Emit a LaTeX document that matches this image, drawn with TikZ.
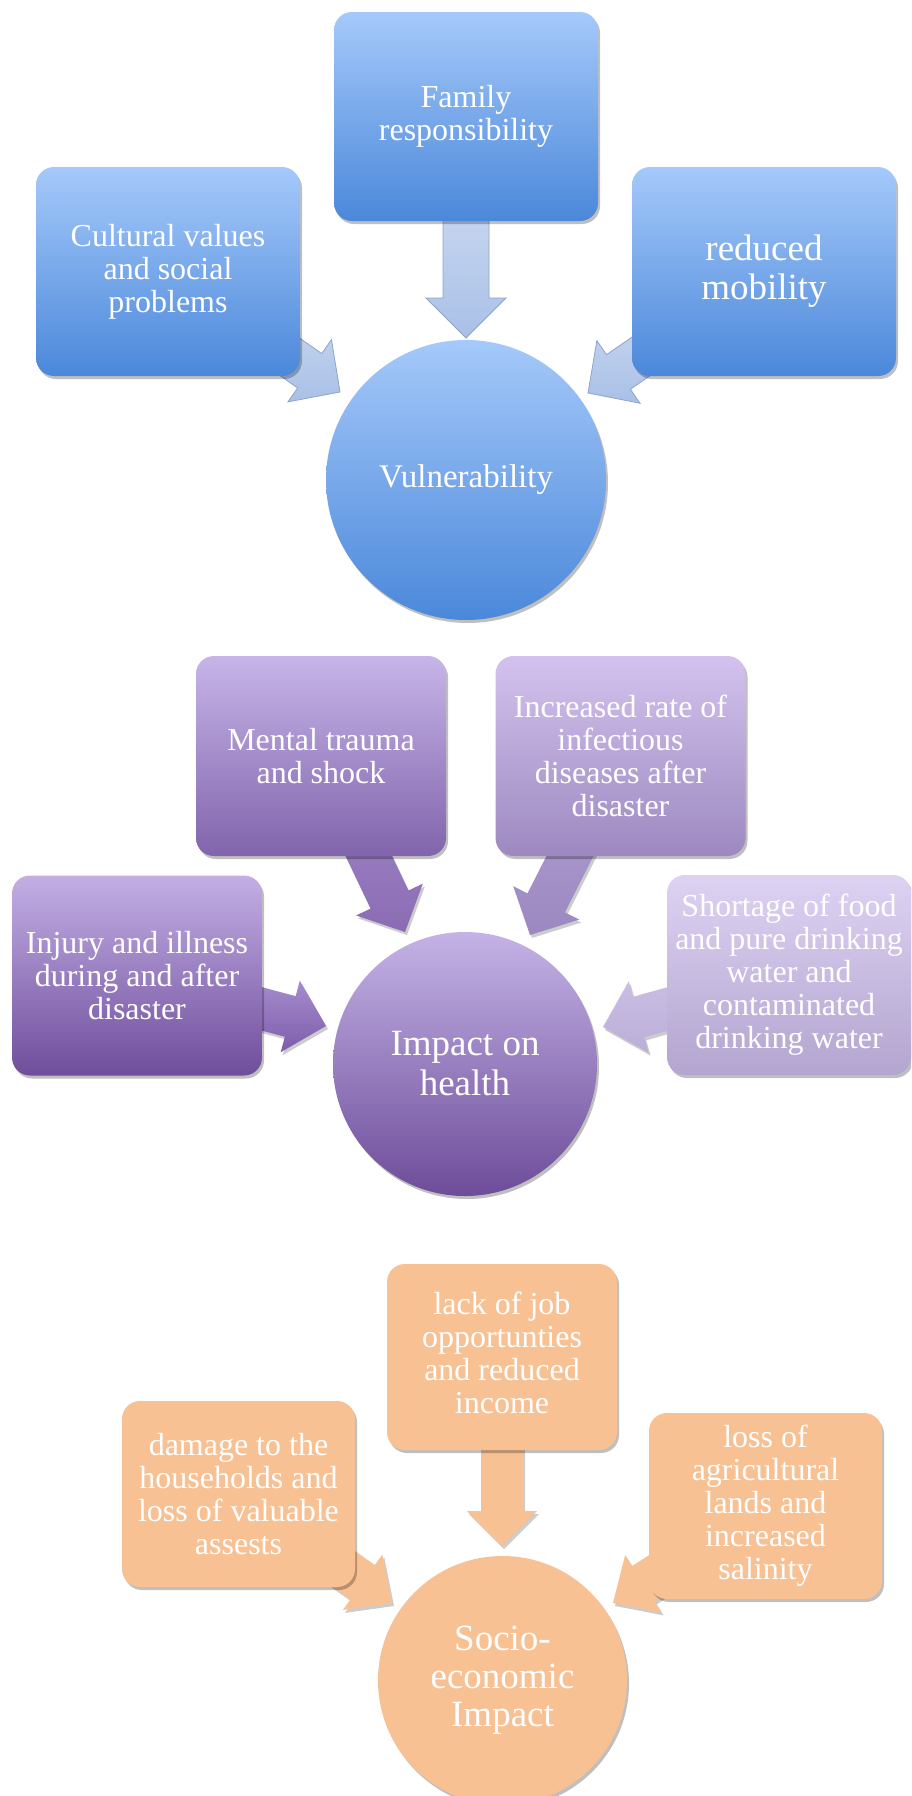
\documentclass[tikz,border=0pt]{standalone}
\usepackage{fontspec}
\setmainfont{Liberation Serif}
\usetikzlibrary{calc,shadows}
\pgfdeclarelayer{bgw}
\pgfdeclarelayer{arr}
\pgfsetlayers{bgw,arr,main}

\definecolor{bluetop}{HTML}{A5C9FA}
\definecolor{bluebot}{HTML}{4B88DA}
\definecolor{barrtop}{HTML}{DAE5F6}
\definecolor{barrbot}{HTML}{A9C0E6}
\definecolor{barrline}{HTML}{8EA4CB}
\definecolor{menttop}{HTML}{C7B5E8}
\definecolor{mentbot}{HTML}{8164AC}
\definecolor{inctop}{HTML}{D3C2EE}
\definecolor{incbot}{HTML}{9D89C0}
\definecolor{injtop}{HTML}{C3AFE4}
\definecolor{injbot}{HTML}{6F4D9C}
\definecolor{shotop}{HTML}{DED2F3}
\definecolor{shobot}{HTML}{B3A5CF}
\definecolor{heatop}{HTML}{C4B3E6}
\definecolor{heabot}{HTML}{6D4C99}
\definecolor{marrtop}{HTML}{A58DCB}
\definecolor{marrbot}{HTML}{8B6CB4}
\definecolor{iarrtop}{HTML}{B4A3D6}
\definecolor{iarrbot}{HTML}{9C88C0}
\definecolor{jarrtop}{HTML}{B49CD8}
\definecolor{jarrbot}{HTML}{7D5DAC}
\definecolor{sarrtop}{HTML}{CFC3E8}
\definecolor{sarrbot}{HTML}{BBAED8}
\definecolor{orng}{HTML}{F8C193}

\newcommand\fnorm{\fontsize{32}{33}\selectfont}
\newcommand\fbig{\fontsize{37}{39}\selectfont}
\newcommand\fvul{\fontsize{33}{35}\selectfont}

% #1 start, #2 tip, #3 shaft half width, #4 head half width, #5 head length, #6 style
\newcommand\blkarrow[6]{%
  \path ($(#2)!#5!(#1)$) coordinate (bbase);
  \path[#6] ($(#1)!#3!90:(#2)$) -- ($(bbase)!#3!90:(#2)$) -- ($(bbase)!#4!90:(#2)$)
    -- (#2) -- ($(bbase)!#4!-90:(#2)$) -- ($(bbase)!#3!-90:(#2)$) -- ($(#1)!#3!-90:(#2)$) -- cycle;
}

\tikzset{
  shad/.style={drop shadow={shadow xshift=2pt,shadow yshift=-3pt,opacity=0.25,fill=black}},
  box/.style={rectangle, rounded corners=18pt, inner sep=0pt, align=center, text=white, font=\fnorm, shad},
  bluebox/.style={box, minimum width=264pt, minimum height=209pt, top color=bluetop, bottom color=bluebot},
  circ/.style={circle, inner sep=0pt, align=center, text=white, shad},
  bluearr/.style={top color=barrtop, bottom color=barrbot, draw=barrline, line width=0.8pt, line join=miter},
  pbox/.style={box, minimum width=250pt, minimum height=200pt},
  obox/.style={box, fill=orng, minimum width=233pt, minimum height=186pt},
  oarr/.style={fill=orng, drop shadow={shadow xshift=2pt,shadow yshift=-3pt,opacity=0.2,fill=black}},
  parr/.style={drop shadow={shadow xshift=2pt,shadow yshift=-3pt,opacity=0.2,fill=black}},
}

\begin{document}
\begin{tikzpicture}[x=1pt,y=-1pt]
\useasboundingbox (0,0) rectangle (911,1796);
\clip (0,0) rectangle (911,1796);
\begin{pgfonlayer}{bgw}
  \fill[white] (0,0) rectangle (911,1796);
\end{pgfonlayer}

% ---------------- Vulnerability ----------------
\node[bluebox] (famBox) at (466,116.5) {Family\\responsibility};
\node[bluebox] (culBox) at (168,271.5) {Cultural values\\and social\\problems};
\node[bluebox, font=\fbig] (redBox) at (764,271.5) {reduced\\mobility};
\node[circ, minimum size=280pt, top color=bluetop, bottom color=bluebot, font=\fvul] (vul) at (466,480) {Vulnerability};
\coordinate (tv1) at (466,338);
\coordinate (tv2) at (340,392);
\coordinate (tv3) at (588,393);

% ---------------- Health ----------------
\node[pbox, top color=menttop, bottom color=mentbot] (mentBox) at (321,756) {Mental trauma\\and shock};
\node[pbox, top color=inctop, bottom color=incbot] (incBox) at (620.5,756) {Increased rate of\\infectious\\diseases after\\disaster};
\node[pbox, top color=injtop, bottom color=injbot] (injBox) at (137,975.5) {Injury and illness\\during and after\\disaster};
\node[pbox, minimum width=244pt, top color=shotop, bottom color=shobot] (shoBox) at (789,975) {Shortage of food\\and pure drinking\\water and\\contaminated\\drinking water};
\node[circ, minimum size=264pt, top color=heatop, bottom color=heabot, font=\fontsize{37}{40}\selectfont] (health) at (465,1064) {Impact on\\health};
\coordinate (th1) at (405,932);
\coordinate (th2) at (530,935);
\coordinate (th3) at (326,1026);
\coordinate (th4) at (603,1027);

% ---------------- Socio-economic ----------------
\node[obox, minimum width=230pt] (jobBox) at (502,1357) {\raisebox{10pt}{\begin{tabular}{@{}c@{}}lack of job\\opportunties\\and reduced\\income\end{tabular}}};
\node[obox] (dmgBox) at (238.5,1494) {damage to the\\households and\\loss of valuable\\assests};
\node[obox] (lossBox) at (765.5,1506) {loss of\\agricultural\\lands and\\increased\\salinity};
\node[circ, minimum size=249pt, fill=orng, font=\fontsize{37}{38}\selectfont] (socio) at (502.5,1680.5) {Socio-\\economic\\Impact};
\coordinate (to1) at (502,1546);
\coordinate (to2) at (392,1603);
\coordinate (to3) at (613,1603);

\begin{pgfonlayer}{arr}
  \blkarrow{famBox.center}{tv1}{23pt}{40pt}{40pt}{bluearr}
  \blkarrow{culBox.center}{tv2}{21pt}{38pt}{37pt}{bluearr}
  \blkarrow{redBox.center}{tv3}{21pt}{38pt}{37pt}{bluearr}

  \blkarrow{mentBox.center}{th1}{21pt}{37pt}{36pt}{parr, top color=marrtop, bottom color=marrbot}
  \blkarrow{incBox.center}{th2}{21pt}{37pt}{36pt}{parr, top color=iarrtop, bottom color=iarrbot}
  \blkarrow{injBox.center}{th3}{21pt}{37pt}{37pt}{parr, top color=jarrtop, bottom color=jarrbot}
  \blkarrow{shoBox.center}{th4}{21pt}{37pt}{37pt}{parr, top color=sarrtop, bottom color=sarrbot}

  \blkarrow{jobBox.center}{to1}{21pt}{35pt}{35pt}{oarr}
  \blkarrow{dmgBox.center}{to2}{21pt}{34pt}{36pt}{oarr}
  \blkarrow{lossBox.center}{to3}{21pt}{34pt}{36pt}{oarr}
\end{pgfonlayer}
\end{tikzpicture}
\end{document}
